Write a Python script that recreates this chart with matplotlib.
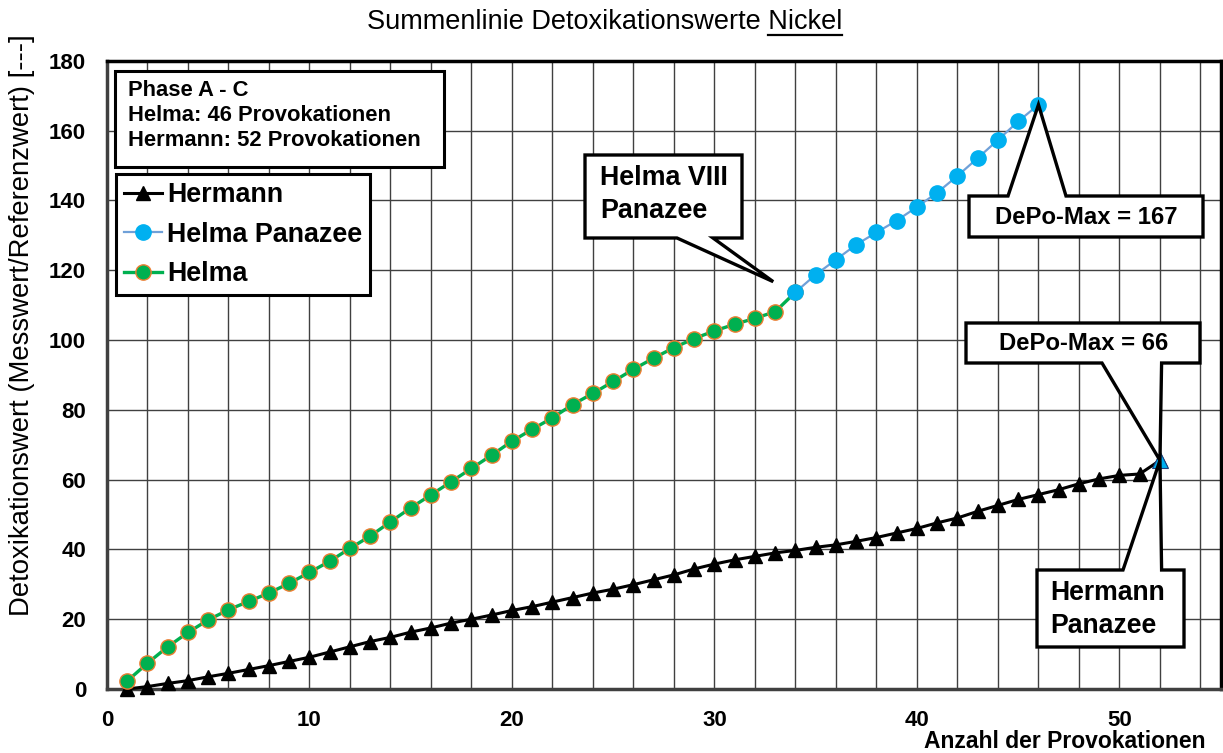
import numpy as np
import matplotlib
matplotlib.use("Agg")
import matplotlib.pyplot as plt
from matplotlib.patches import Polygon
from matplotlib.lines import Line2D

plt.rcParams['font.family'] = ['Liberation Sans', 'DejaVu Sans']

# Daten
helma_x = list(range(1, 35))
helma_y = [2.3, 7.4, 12.1, 16.2, 19.8, 22.7, 25.1, 27.5, 30.3, 33.4,
           36.6, 40.3, 43.8, 47.9, 51.9, 55.6, 59.4, 63.2, 67.0, 71.0,
           74.4, 77.7, 81.5, 84.7, 88.1, 91.6, 94.8, 97.8, 100.4, 102.6,
           104.5, 106.2, 108.1, 113.7]
panazee_x = list(range(34, 47))
panazee_y = [113.7, 118.7, 123.0, 127.3, 130.8, 134.2, 138.1, 142.2,
             147.0, 152.1, 157.3, 162.6, 167.4]
hermann_x = list(range(1, 53))
hermann_y = [0.0, 0.7, 1.6, 2.4, 3.5, 4.5, 5.6, 6.7, 7.9, 9.1,
             10.6, 12.1, 13.6, 14.8, 16.3, 17.5, 18.9, 20.0, 21.2, 22.5,
             23.6, 24.9, 26.2, 27.5, 28.6, 29.9, 31.3, 32.7, 34.4, 35.8,
             37.0, 38.0, 39.0, 39.7, 40.6, 41.3, 42.3, 43.4, 44.7, 46.0,
             47.6, 49.0, 50.9, 52.6, 54.3, 55.7, 57.1, 58.8, 60.2, 61.2,
             61.6, 65.5]
x_ticks = [0, 10, 20, 30, 40, 50]
y_ticks = [0, 20, 40, 60, 80, 100, 120, 140, 160, 180]

W, H = 1223, 753


def px(x, y):
    """Pixel (oben links) -> Figure-Koordinaten"""
    return (x / W, 1 - y / H)


fig = plt.figure(figsize=(W / 100, H / 100), dpi=100)
ax = fig.add_axes([107 / W, 1 - 689 / H, (1220.7 - 107) / W, (689 - 60.7) / H])

ax.set_xlim(0, 55)
ax.set_ylim(0, 180)
ax.set_xticks(x_ticks)
ax.set_xticks(np.arange(0, 55, 2), minor=True)
ax.set_yticks(y_ticks)
ax.grid(True, which='both', axis='x', color='#404040', lw=1.0)
ax.grid(True, which='major', axis='y', color='#404040', lw=1.0)
ax.set_axisbelow(True)
ax.tick_params(which='both', length=0)
ax.tick_params(axis='x', pad=15, labelsize=16)
ax.tick_params(axis='y', pad=15, labelsize=16)
for lab in ax.get_xticklabels() + ax.get_yticklabels():
    lab.set_fontweight('bold')
for s in ['top', 'right']:
    ax.spines[s].set_linewidth(2.5)
for s in ['left', 'bottom']:
    ax.spines[s].set_linewidth(2.5)
    ax.spines[s].set_color('#404040')

l_herm, = ax.plot(hermann_x, hermann_y, color='black', lw=2.2, marker='^',
                  ms=10, mfc='black', mec='black', clip_on=False, zorder=3)
l_helma, = ax.plot(helma_x, helma_y, color='#00B050', lw=2.4, marker='o',
                   ms=11, mfc='#00B050', mec='#ED7D31', mew=1.0, zorder=4)
l_pan, = ax.plot(panazee_x, panazee_y, color='#6FA0D8', lw=1.6, marker='o',
                 ms=11, mfc='#00B0F0', mec='#00B0F0', zorder=5)
ax.plot(hermann_x[-1], hermann_y[-1], marker='^', ms=11, mfc='#00B0F0',
        mec='#1F3F7F', mew=0.8, zorder=6, clip_on=False)

leg = ax.legend([l_herm, l_pan, l_helma], ['Hermann', 'Helma Panazee', 'Helma'],
                loc='upper left', bbox_to_anchor=(0.0081, 0.8197),
                borderaxespad=0, fancybox=False, framealpha=1,
                edgecolor='black', handlelength=1.4, handletextpad=0.2,
                labelspacing=0.5, borderpad=0.3,
                prop={'weight': 'bold', 'size': 19.4})
leg.get_frame().set_linewidth(2.2)
leg.set_zorder(10)

# Infobox
fig.add_artist(Polygon([px(115, 71), px(444, 71), px(444, 167), px(115, 167)],
                       closed=True, transform=fig.transFigure, fc='white',
                       ec='black', lw=2.2, zorder=5))
for i, line in enumerate(['Phase A - C', 'Helma: 46 Provokationen',
                          'Hermann: 52 Provokationen']):
    fig.text(*px(128, 90 + i * 25.5), line, ha='left', va='center',
             fontsize=15.8, fontweight='bold', zorder=6)


def callout(box, base, tip, side, lines, tx, ty, size, ha='left'):
    x0, y0, x1, y1 = box
    b1, b2 = base
    t = ax.transData.transform(tip)
    tipf = (t[0] / W, t[1] / H)
    if side == 'bottom':
        verts = [px(x0, y0), px(x1, y0), px(x1, y1), px(b2, y1), tipf,
                 px(b1, y1), px(x0, y1)]
    else:
        verts = [px(x0, y0), px(b1, y0), tipf, px(b2, y0), px(x1, y0),
                 px(x1, y1), px(x0, y1)]
    fig.add_artist(Polygon(verts, closed=True, transform=fig.transFigure,
                           fc='white', ec='black', lw=2.4, zorder=5))
    for i, line in enumerate(lines):
        fig.text(*px(tx, ty + i * 33), line, ha=ha, va='center',
                 fontsize=size, fontweight='bold', zorder=6)


callout((585, 155, 742, 238), (677, 713), (32.9, 116.7), 'bottom',
        ['Helma VIII', 'Panazee'], 600, 178, 19.4)
callout((969, 196, 1203, 237), (1008, 1066),
        (panazee_x[-1], panazee_y[-1]), 'top',
        ['DePo-Max = 167'], 1086, 217, 17.2, ha='center')
callout((966, 323, 1200, 363), (1102, 1161.6),
        (hermann_x[-1], hermann_y[-1]), 'bottom',
        ['DePo-Max = 66'], 1084, 343, 17.2, ha='center')
callout((1037, 570, 1184, 647), (1123, 1161.6),
        (hermann_x[-1], hermann_y[-1]), 'top',
        ['Hermann', 'Panazee'], 1050, 593, 19.2)

# Titel mit unterstrichenem "Nickel"
title = fig.text(*px(604.5, 22), 'Summenlinie Detoxikationswerte Nickel',
                 ha='center', va='center', fontsize=19.5)
renderer = fig.canvas.get_renderer()
tb = title.get_window_extent(renderer)
probe = fig.text(0, 0, 'Nickel', fontsize=19.5)
wn = probe.get_window_extent(renderer).width
probe.remove()
uy = 1 - 34.5 / H
fig.add_artist(Line2D([(tb.x1 - wn) / W, tb.x1 / W], [uy, uy],
                      color='black', lw=1.6, transform=fig.transFigure))

fig.text(*px(22, 325), 'Detoxikationswert (Messwert/Referenzwert) [---]',
         rotation=90, ha='center', va='center', fontsize=19.8)
fig.text(*px(1205, 742), 'Anzahl der Provokationen', ha='right',
         va='center', fontsize=16.5, fontweight='bold')

fig.savefig('out.png', dpi=100)
